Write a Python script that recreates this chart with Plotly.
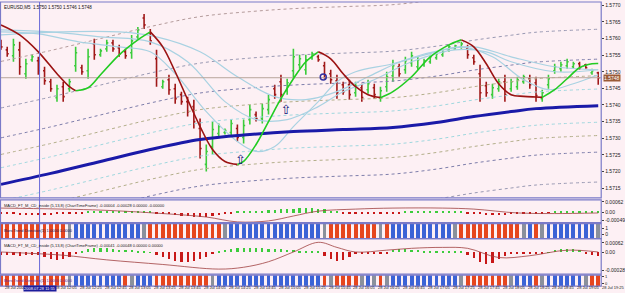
import plotly.graph_objects as go

# ---------------- data ----------------
N_BARS = 97
BAR_IDX = list(range(N_BARS))

OPEN = [1.57587,1.57566,1.57548,1.57566,1.57494,1.57536,1.57533,1.57503,1.57470,1.57422,
        1.57455,1.57449,1.57518,1.57512,1.57503,1.57584,1.57551,1.57569,1.57587,1.57572,
        1.57560,1.57557,1.57605,1.57662,1.57617,1.57539,1.57455,1.57476,1.57449,1.57431,
        1.57410,1.57395,1.57329,1.57221,1.57275,1.57314,1.57317,1.57317,1.57329,1.57302,
        1.57356,1.57371,1.57359,1.57386,1.57449,1.57470,1.57443,1.57503,1.57521,1.57506,
        1.57542,1.57545,1.57518,1.57494,1.57473,1.57461,1.57461,1.57437,1.57452,1.57446,
        1.57452,1.57422,1.57455,1.57488,1.57515,1.57506,1.57527,1.57515,1.57521,1.57530,
        1.57542,1.57551,1.57566,1.57569,1.57575,1.57569,1.57542,1.57494,1.57458,1.57431,
        1.57449,1.57470,1.57449,1.57455,1.57470,1.57479,1.57467,1.57419,1.57461,1.57503,
        1.57509,1.57518,1.57515,1.57524,1.57521,1.57497,1.57497]
HIGH = [1.57596,1.57575,1.57599,1.57590,1.57539,1.57551,1.57545,1.57515,1.57479,1.57461,
        1.57470,1.57479,1.57575,1.57521,1.57569,1.57599,1.57569,1.57596,1.57596,1.57581,
        1.57569,1.57611,1.57635,1.57674,1.57629,1.57566,1.57476,1.57491,1.57464,1.57440,
        1.57425,1.57416,1.57359,1.57281,1.57350,1.57344,1.57329,1.57356,1.57341,1.57356,
        1.57401,1.57380,1.57404,1.57431,1.57461,1.57491,1.57479,1.57569,1.57551,1.57551,
        1.57560,1.57551,1.57530,1.57506,1.57491,1.57470,1.57476,1.57470,1.57464,1.57476,
        1.57464,1.57455,1.57500,1.57536,1.57524,1.57545,1.57560,1.57545,1.57539,1.57551,
        1.57560,1.57566,1.57581,1.57581,1.57590,1.57581,1.57551,1.57521,1.57470,1.57464,
        1.57479,1.57491,1.57479,1.57485,1.57491,1.57491,1.57485,1.57446,1.57491,1.57524,
        1.57530,1.57539,1.57530,1.57530,1.57524,1.57509,1.57500]
LOW = [1.57566,1.57545,1.57530,1.57491,1.57479,1.57530,1.57491,1.57461,1.57440,1.57410,
       1.57410,1.57440,1.57500,1.57491,1.57479,1.57536,1.57545,1.57560,1.57560,1.57545,
       1.57539,1.57539,1.57596,1.57629,1.57581,1.57455,1.57449,1.57431,1.57404,1.57401,
       1.57365,1.57329,1.57239,1.57200,1.57251,1.57305,1.57311,1.57305,1.57290,1.57284,
       1.57341,1.57350,1.57344,1.57371,1.57419,1.57410,1.57431,1.57479,1.57509,1.57491,
       1.57536,1.57530,1.57479,1.57464,1.57419,1.57431,1.57416,1.57425,1.57410,1.57434,
       1.57419,1.57410,1.57440,1.57470,1.57485,1.57494,1.57515,1.57506,1.57515,1.57524,
       1.57536,1.57545,1.57560,1.57566,1.57569,1.57539,1.57521,1.57410,1.57425,1.57419,
       1.57440,1.57410,1.57440,1.57446,1.57464,1.57449,1.57410,1.57410,1.57449,1.57494,
       1.57500,1.57509,1.57509,1.57506,1.57509,1.57491,1.57461]
CLOSE = [1.57575,1.57554,1.57581,1.57515,1.57524,1.57545,1.57503,1.57473,1.57449,1.57449,
         1.57425,1.57470,1.57557,1.57500,1.57545,1.57551,1.57563,1.57587,1.57569,1.57554,
         1.57548,1.57593,1.57626,1.57641,1.57593,1.57482,1.57470,1.57446,1.57419,1.57410,
         1.57380,1.57350,1.57269,1.57260,1.57326,1.57335,1.57323,1.57344,1.57302,1.57338,
         1.57386,1.57359,1.57389,1.57416,1.57431,1.57431,1.57467,1.57545,1.57539,1.57536,
         1.57554,1.57536,1.57491,1.57476,1.57437,1.57440,1.57431,1.57458,1.57422,1.57464,
         1.57431,1.57443,1.57485,1.57518,1.57494,1.57533,1.57548,1.57536,1.57533,1.57545,
         1.57554,1.57560,1.57575,1.57578,1.57584,1.57551,1.57530,1.57437,1.57437,1.57452,
         1.57470,1.57431,1.57470,1.57476,1.57485,1.57461,1.57428,1.57437,1.57479,1.57515,
         1.57521,1.57530,1.57524,1.57512,1.57512,1.57503,1.57482]

# fast trend line (colour by direction)
TREND_X = [0,3,6,9,11,12,14,16,19,22,24,26,28,30,32,34,36,38,39,41,43,45,47,49,51,53,55,57,59,61,
           63,66,69,72,74,76,78,80,82,84,86,87,89,91,93,95,96]
TREND_Y = [1.57641,1.57611,1.57560,1.57494,1.57455,1.57443,1.57452,1.57491,1.57551,1.57596,1.57620,
           1.57575,1.57500,1.57416,1.57335,1.57266,1.57230,1.57221,1.57230,1.57281,1.57350,1.57419,
           1.57479,1.57530,1.57560,1.57539,1.57494,1.57455,1.57431,1.57422,1.57440,1.57485,1.57545,
           1.57581,1.57596,1.57575,1.57524,1.57464,1.57431,1.57426,1.57424,1.57423,1.57446,1.57479,
           1.57512,1.57524,1.57525]

# light blue moving averages
MA1_X = [0,6,12.5,19,24,28,33,38,41,44,47,51,54,57,63,70,74,79,84,88,92,96]
MA1_Y = [1.57620,1.57614,1.57590,1.57575,1.57560,1.57494,1.57380,1.57290,1.57260,1.57275,1.57335,
         1.57410,1.57470,1.57500,1.57524,1.57560,1.57575,1.57545,1.57476,1.57446,1.57464,1.57491]
MA2_X = [0,8,16,24,30,36,41,46,51,55,60,66,73,78,82,89,96]
MA2_Y = [1.57626,1.57620,1.57605,1.57590,1.57530,1.57410,1.57356,1.57356,1.57395,1.57440,1.57476,
         1.57530,1.57566,1.57560,1.57530,1.57500,1.57506]
MA3_X = [0,9.5,19,25,32,38,44,49,54,59,65,71,76,82,89,96]
MA3_Y = [1.57611,1.57620,1.57620,1.57605,1.57560,1.57485,1.57425,1.57416,1.57440,1.57485,1.57536,
         1.57566,1.57575,1.57545,1.57515,1.57506]

# slow thick moving average and its envelope offsets
SLOW_X = [0,8,16,24,32,40,47,55,63,70,76,82,86,96]
SLOW_Y = [1.57161,1.57194,1.57230,1.57266,1.57296,1.57311,1.57320,1.57326,1.57332,1.57347,1.57365,
          1.57380,1.57389,1.57398]
BAND_OFFSETS = [0.0005, 0.0009, 0.0014, 0.0023, 0.0037]

# signal arrows
ARROW_X = [38.5, 45.8]
ARROW_Y = [1.57232, 1.57384]
DOT_X = [51.8]
DOT_Y = [1.57484]

# oscillator 1 (histogram + signal), units of 1e-5
OSC1 = [-8,-9,-8,-10,-11,-10,-10,-11,-10,-9,-8,-6,-4,-2,
        5,6,8,10,10,10,8,8,10,8,5,
        -4,-6,-9,-12,-15,-18,-20,-22,-20,-16,-10,-5,
        -2,3,
        5,6,8,10,12,14,16,18,20,22,24,22,20,16,10,5,
        -2,-4,-5,-5,-5,-5,-5,-4,-3,-2,3,
        6,8,8,8,8,6,6,5,3,
        -3,-6,-9,-12,-13,-12,-11,-9,-7,
        -5,-4,-4,-3,-1,
        4,6,8,8,8,6,5,5]
OSC1_SIG_X = [0,16,26,33,38,43,47,51,57,63,71,76,83,89,96]
OSC1_SIG_Y = [22,12,-5,-22,-46,-41,-17,7,17,22,22,17,-2,-5,-2]

# oscillator 2 (histogram + signal), units of 1e-5
OSC2 = [-5,-6,-6,-7,-6,-6,-5,
        -10,-14,-16,-14,-10,
        -2,
        4,8,10,10,9,8,6,6,5,4,3,
        1,
        -5,-10,-14,-18,-20,-20,-18,-15,-10,
        -2,
        3,6,8,10,10,10,9,9,8,8,7,6,5,4,4,3,2,
        -8,-14,-18,-16,-10,
        -4,-4,-4,-4,-3,-3,
        6,8,8,6,5,4,3,
        3,3,3,3,2,
        -5,-12,-20,-24,-22,-14,-8,
        -4,-4,-4,-3,-3,-2,
        1,
        6,8,8,7,5,
        -3,-6,-8]
OSC2_SIG_X = [0,5,10,17,26,35,39,43,47,51,54,57,62,66,71,75,80,85,91,96]
OSC2_SIG_Y = [0,-3,-7,-17,-27,-37,-33,-21,0,21,10,0,4,8,10,8,-12,-8,4,0]

# trend-direction strips: R = down, B = up, G = flat
STRIP1 = list("RRRRRRRRRRR" "G" "BBBBBBBBBBB" "G" "RRRRRRRRRRRR" "G" "BBBBBBBBBBBBBBB" "G"
              "RRRRRRRR" "G" "R" "BBBBBBBBBB" "G" "RRRRRRRRRR" "G" "B" "R" "G" "BBBBBBBB" "G")
STRIP2 = list("RRRRRRRRRRR" "G" "BBBBBBBB" "R" "G" "BBB" "RRRRRRRRR" "G" "BBBBBBBBBBBBBBBBB"
              "R" "G" "RRRR" "G" "B" "G" "R" "G" "BBBBBBBBBBB" "G" "RRRRRRR" "G" "BBB" "R" "G"
              "BBBBBB" "G" "RR")

# time axis labels (label under the cursor box at 11:45 is hidden in the original)
TICK_BARS = [0] + list(range(8, 97, 4))
TICK_TEXT = ["28 Jul 2008", "28 Jul 12:05", "28 Jul 12:25", "28 Jul 12:45", "28 Jul 13:05",
             "28 Jul 13:25", "28 Jul 13:45", "28 Jul 14:05", "28 Jul 14:25", "28 Jul 14:45",
             "28 Jul 15:05", "28 Jul 15:25", "28 Jul 15:45", "28 Jul 16:05", "28 Jul 16:25",
             "28 Jul 16:45", "28 Jul 17:05", "28 Jul 17:25", "28 Jul 17:45", "28 Jul 18:05",
             "28 Jul 18:25", "28 Jul 18:45", "28 Jul 19:05", "28 Jul 19:25"]
PRICE_TICKS = [1.5715, 1.5720, 1.5725, 1.5730, 1.5735, 1.5740, 1.5745, 1.5750, 1.5755,
               1.5760, 1.5765, 1.5770]
CURSOR_BAR = 6.2
CURSOR_LABEL = "2008.07.28 11:55"

# ---------------- styling ----------------
W, H = 625, 293
BG = "#fdf0f4"
FRAME = "#7a7ac8"
GREEN = "#3ccc3c"
RED = "#a01818"
XR = 610 / W
FONT = "Liberation Sans"

def ypx(px):
    return 1 - px / H

fig = go.Figure()

band_colors = ["#9fd7de", "#b3ae8a", "#7d7daa", "#9898b2", "#b39a9a"]
for off, col in zip(BAND_OFFSETS, band_colors):
    for sgn in (1, -1):
        fig.add_trace(go.Scatter(x=SLOW_X, y=[v + sgn * off for v in SLOW_Y], mode="lines",
                                 line=dict(color=col, width=1, dash="dot", shape="spline"),
                                 hoverinfo="skip", showlegend=False))

for xs, ys in ((MA3_X, MA3_Y), (MA2_X, MA2_Y), (MA1_X, MA1_Y)):
    fig.add_trace(go.Scatter(x=xs, y=ys, mode="lines",
                             line=dict(color="#a9d2e2", width=1.2, shape="spline"),
                             hoverinfo="skip", showlegend=False))

fig.add_trace(go.Scatter(x=SLOW_X, y=SLOW_Y, mode="lines",
                         line=dict(color="#1a1aa8", width=3, shape="spline"),
                         hoverinfo="skip", showlegend=False))

last = CLOSE[-1]
fig.add_trace(go.Scatter(x=[-1, 97], y=[last, last], mode="lines",
                         line=dict(color="#b8a69c", width=1), hoverinfo="skip", showlegend=False))

runs = []
cur = None
for j in range(len(TREND_X) - 1):
    up = TREND_Y[j + 1] > TREND_Y[j]
    if cur is None or cur[0] != up:
        cur = [up, [TREND_X[j]], [TREND_Y[j]]]
        runs.append(cur)
    cur[1].append(TREND_X[j + 1])
    cur[2].append(TREND_Y[j + 1])
for up, xs, ys in runs:
    fig.add_trace(go.Scatter(x=xs, y=ys, mode="lines",
                             line=dict(color="#22cc22" if up else "#9b1212", width=1.6, shape="spline"),
                             hoverinfo="skip", showlegend=False))

fig.add_trace(go.Ohlc(x=BAR_IDX, open=OPEN, high=HIGH, low=LOW, close=CLOSE,
                      increasing=dict(line=dict(color=GREEN, width=1.6)),
                      decreasing=dict(line=dict(color=RED, width=1.6)),
                      tickwidth=0.25, hoverinfo="skip", showlegend=False))

fig.add_trace(go.Scatter(x=ARROW_X, y=ARROW_Y, mode="text", text=["⇧"] * len(ARROW_X),
                         textfont=dict(family="DejaVu Sans", size=13, color="#10107a"),
                         hoverinfo="skip", showlegend=False))
fig.add_trace(go.Scatter(x=DOT_X, y=DOT_Y, mode="markers",
                         marker=dict(symbol="circle-open", size=6, color="#3030a0", line=dict(width=1.5)),
                         hoverinfo="skip", showlegend=False))

fig.add_trace(go.Bar(x=BAR_IDX, y=[v * 1e-5 for v in OSC1], yaxis="y2", width=0.36,
                     marker=dict(color=[GREEN if v > 0 else "#c81818" for v in OSC1], line=dict(width=0)),
                     hoverinfo="skip", showlegend=False))
fig.add_trace(go.Scatter(x=OSC1_SIG_X, y=[v * 1e-5 for v in OSC1_SIG_Y], yaxis="y2", mode="lines",
                         line=dict(color="#a04040", width=0.8, shape="spline"),
                         hoverinfo="skip", showlegend=False))

fig.add_trace(go.Bar(x=BAR_IDX, y=[v * 1e-5 for v in OSC2], yaxis="y4", width=0.36,
                     marker=dict(color=[GREEN if v > 0 else "#c81818" for v in OSC2], line=dict(width=0)),
                     hoverinfo="skip", showlegend=False))
fig.add_trace(go.Scatter(x=OSC2_SIG_X, y=[v * 1e-5 for v in OSC2_SIG_Y], yaxis="y4", mode="lines",
                         line=dict(color="#a04040", width=0.8, shape="spline"),
                         hoverinfo="skip", showlegend=False))

strip_col = {"R": "#e6461e", "B": "#3b63d6", "G": "#8a909c"}
for strip, ax in ((STRIP1, "y3"), (STRIP2, "y5")):
    fig.add_trace(go.Bar(x=BAR_IDX, y=[1] * len(strip), yaxis=ax, width=0.62,
                         marker=dict(color=[strip_col[c] for c in strip], line=dict(width=0)),
                         hoverinfo="skip", showlegend=False))

tickfont = dict(family=FONT, size=5, color="#202020")
common_y = dict(side="right", anchor="x", showgrid=False, zeroline=False, ticks="outside",
                ticklen=2, tickcolor="#404040", tickfont=tickfont, showline=False)
small_y = dict(common_y, tickfont=dict(family=FONT, size=4, color="#202020"))

fig.update_layout(
    width=W, height=H, margin=dict(l=0, r=0, t=0, b=0),
    paper_bgcolor=BG, plot_bgcolor=BG, barmode="overlay", bargap=0,
    xaxis=dict(domain=[0, XR], range=[-0.16, 96.48], showgrid=False, zeroline=False,
               showticklabels=False, ticks="", rangeslider=dict(visible=False), fixedrange=True),
    yaxis=dict(domain=[ypx(198), 1], range=[1.5712, 1.5771], tickvals=PRICE_TICKS,
               ticktext=[f"{v:.4f}" for v in PRICE_TICKS], **common_y),
    yaxis2=dict(domain=[ypx(223), ypx(200)], range=[-0.00050, 0.00062],
                tickvals=[0.00052, 0.0, -0.00040], ticktext=["0.00062", "0.00", "-0.00049"], **common_y),
    yaxis3=dict(domain=[ypx(239), ypx(224)], range=[0, 1], tickvals=[0.7, 0.3],
                ticktext=["1", "0"], **common_y),
    yaxis4=dict(domain=[ypx(275), ypx(240)], range=[-0.00048, 0.00027],
                tickvals=[0.00020, 0.0, -0.00040], ticktext=["0.00062", "0.00", "-0.00028"], **common_y),
    yaxis5=dict(domain=[ypx(287), ypx(276)], range=[0, 1], tickvals=[0.9, 0.25],
                ticktext=["1", "0"], **small_y),
)

shapes = []
for top, bot in ((0, 198), (200, 223), (224, 239), (239, 275), (276, 287)):
    shapes.append(dict(type="rect", xref="paper", yref="paper", x0=0.0008, x1=XR,
                       y0=ypx(bot), y1=ypx(top), line=dict(color=FRAME, width=1.2)))
shapes.append(dict(type="line", xref="x", yref="paper", x0=CURSOR_BAR, x1=CURSOR_BAR,
                   y0=ypx(287), y1=1, line=dict(color="#6a6ad8", width=1)))
fig.update_layout(shapes=shapes)

ann = []
for b, t in zip(TICK_BARS, TICK_TEXT):
    ann.append(dict(x=b, xref="x", y=ypx(293.5), yref="paper", xanchor="left", yanchor="bottom",
                    xshift=2, text=t, showarrow=False, font=dict(family=FONT, size=4, color="#202020")))
ann.append(dict(x=CURSOR_BAR, xref="x", y=ypx(293.5), yref="paper", xanchor="left", yanchor="bottom",
                xshift=-17, text=CURSOR_LABEL, showarrow=False, bgcolor="#1c1c9c", borderpad=0,
                font=dict(family=FONT, size=4, color="white")))
ann.append(dict(x=XR + 0.003, xref="paper", y=last, yref="y", xanchor="left", yanchor="middle",
                text=f"{last:.4f}", showarrow=False, bgcolor="#9b5a36", borderpad=0,
                font=dict(family=FONT, size=5, color="white")))
ann.append(dict(x=0.004, xref="paper", y=ypx(1), yref="paper", xanchor="left", yanchor="top",
                text=f"EURUSD,M5  {OPEN[-1]:.4f} {HIGH[-1]:.4f} {LOW[-1]:.4f} {CLOSE[-1]:.4f}",
                showarrow=False, font=dict(family=FONT, size=4.5, color="#101010")))
ann.append(dict(x=0.004, xref="paper", y=ypx(201), yref="paper", xanchor="left", yanchor="top",
                text="MACD_FT_M_CD_inside (5,13,8) (ChartTimeFrame) -0.00004 -0.00028 0.00000 -0.00000",
                showarrow=False, font=dict(family=FONT, size=4, color="#202020")))
ann.append(dict(x=0.004, xref="paper", y=ypx(226), yref="paper", xanchor="left", yanchor="top",
                text="Bars Trend Direction(1) 1.0000 0.0000",
                showarrow=False, font=dict(family=FONT, size=4, color="#202060")))
ann.append(dict(x=0.004, xref="paper", y=ypx(241), yref="paper", xanchor="left", yanchor="top",
                text="MACD_FT_M_CD_inside (5,13,8) (ChartTimeFrame) -0.00041 -0.00048 0.00000 0.00000",
                showarrow=False, font=dict(family=FONT, size=4, color="#202020")))
ann.append(dict(x=0.004, xref="paper", y=ypx(277), yref="paper", xanchor="left", yanchor="top",
                text="Bars Trend Direction(1) 1.0000 0.0000",
                showarrow=False, font=dict(family=FONT, size=4, color="#6030a0")))
fig.update_layout(annotations=ann)

fig.write_html("out.html")
